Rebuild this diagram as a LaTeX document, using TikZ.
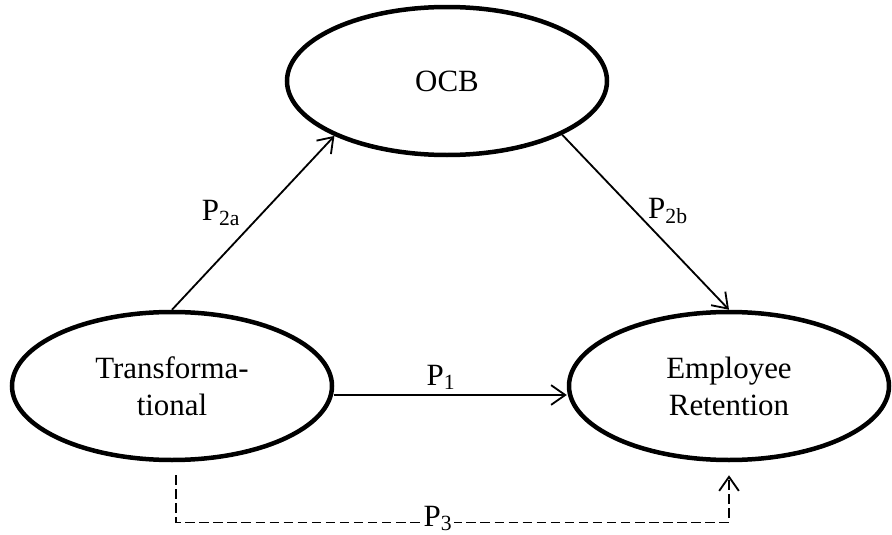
\documentclass[tikz,border=0pt]{standalone}
\usepackage{fontspec}
\setmainfont{Liberation Serif}
\usetikzlibrary{shapes.geometric,arrows.meta}

\begin{document}
\begin{tikzpicture}[
    construct/.style={draw, ellipse, line width=3.2pt, minimum width=8cm,
      minimum height=3.7cm, inner sep=0pt, align=center,
      font=\fontsize{22}{26.3}\selectfont},
    link/.style={line width=1.3pt,
      -{Straight Barb[length=10pt,width=14pt,line width=1.3pt]}},
    indirect/.style={link, line width=1pt, dash pattern=on 6.7pt off 3.3pt},
    plabel/.style={font=\fontsize{22}{26.3}\selectfont, inner sep=1pt}
  ]
  \useasboundingbox (0cm, 0cm) rectangle (22.3cm, 13.35cm);

  \node[construct] (ocb) at (11.175cm, 11.325cm) {OCB};
  \node[construct] (trans) at (4.3cm, 3.7cm) {Transforma-\\tional};
  \node[construct] (retention) at (18.225cm, 3.7cm) {Employee\\Retention};

  \draw[link] (trans.north) -- (ocb.206);
  \draw[link] (ocb.335) -- (retention.north);
  \draw[link] ([yshift=-0.225cm]trans.east) -- ([yshift=-0.225cm]retention.west);
  \draw[indirect] ([xshift=0.1cm, yshift=-0.325cm]trans.south) -- ++(0cm, -1.175cm)
    -| ([yshift=-0.325cm]retention.south);

  \node[plabel] (p2a) at (5.525cm, 8.025cm) {P\textsubscript{2a}};
  \node[plabel] (p2b) at (16.7cm, 8.075cm) {P\textsubscript{2b}};
  \node[plabel, anchor=base] (p1) at (11.025cm, 3.72cm) {P\textsubscript{1}};
  \node[plabel, anchor=base, fill=white] (p3) at (10.95cm, 0.2cm) {P\textsubscript{3}};

\end{tikzpicture}
\end{document}
